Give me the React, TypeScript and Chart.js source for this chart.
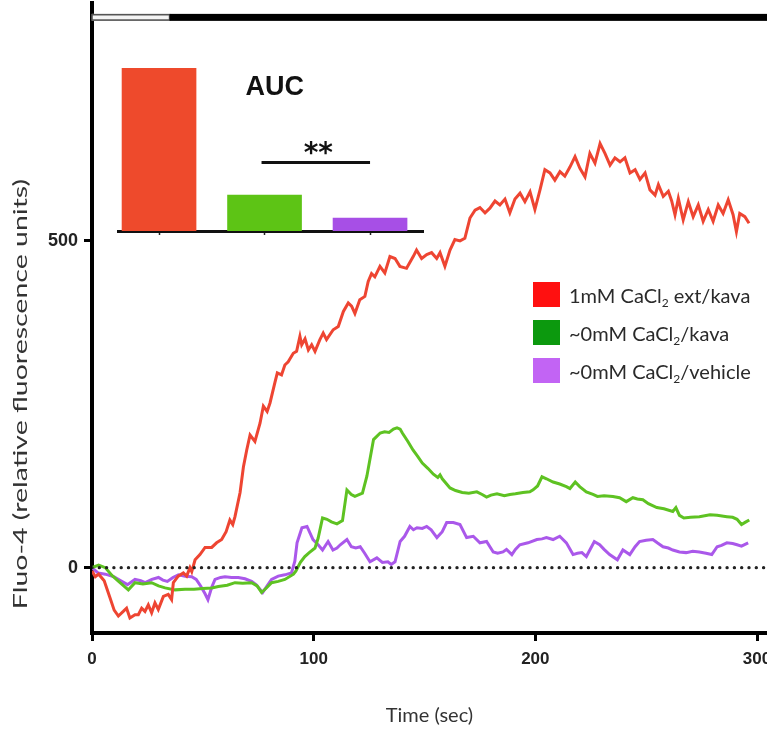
import React, { useEffect, useRef } from "react";
import { Chart, registerables } from "chart.js";
Chart.register(...registerables);

// ---------- data ----------
const redT = [0,1.5,3,5.5,8,10,11.9,14.1,15.6,17.1,19.4,20.9,22.4,23.9,25.4,26.9,28.4,29.9,32.2,34.4,35.9,36.7,38.9,41.2,42.7,44.2,45,46.5,48.7,51,54,56.2,58.5,60.5,62.2,63.5,64.5,66.8,68.3,69.8,71.3,73.5,75.8,77.3,79,80.3,82.5,83.6,85.5,87,88.5,90.8,92.3,93.8,94.6,96.1,97.6,99.1,100.6,102.8,104.3,105.8,108.8,111.1,113.4,115.6,117.1,118.6,120.8,123.1,124.6,126.1,127.6,129.9,132.1,134.4,136.7,138.9,141.9,144.9,146.4,148.7,151,153.2,155.5,157,159.2,161.5,163.7,166,168.2,170.5,172.8,175,177.3,179.5,181.8,184,186.3,188.5,190.8,193.1,195.3,197.6,199.8,202.1,204.3,206.6,208.8,211.1,213.3,215.6,217.9,220.1,222.4,224.6,226.9,229.2,231.4,233.7,235.9,238.2,240.4,242.7,245,247.2,249.5,251.7,254,255.5,257.7,260,261.5,263,264.5,266.7,269,271.2,273.5,275.7,278,280.2,282.5,284.7,287,289.2,290.7,292.2,294.5,296.4];
const redV = [-5,-14,-10,-20,-45,-65,-74,-67,-62,-77,-72,-72,-62,-67,-57,-69,-54,-64,-44,-41,-49,-23,-13,-8,-13,0,-6,12,20,31,31,38,43,55,73,66,78,115,154,180,203,193,221,247,239,252,283,298,295,310,315,328,331,354,341,350,333,341,331,349,359,349,364,369,392,405,400,389,410,415,438,450,445,461,451,476,473,461,458,476,486,473,479,482,473,482,461,486,502,500,504,535,547,551,543,550,561,555,564,543,564,573,560,575,548,578,609,604,593,606,599,613,629,611,598,634,619,649,634,616,627,621,627,604,609,594,604,578,570,586,568,576,561,540,565,532,560,537,555,530,548,530,555,542,563,540,514,542,537,527];

const greenT = [0,3,6,9,12,16.4,19.4,23,26.9,30,33,37.4,42,46,50,54,57,61,64.5,68,72,74.5,76.5,79,81,84,87,90.9,92,94,96,98,100.6,102,104,106,108,110.5,113,115,117,118.6,122,124,127,130,132,134,136,137.6,139,140,142.5,144.8,147,149,151.5,154,156,157,158,161.5,164,167,170,173.6,176,178,180,182.7,186,188.5,191,194.4,197.5,199,201,203,205,208,211,214,215.6,218,220,223,226,228,231,235,238,241,244,246,248.5,251,254.8,258,262,263.4,265,267,270,274,278.8,282,286.4,289,291,293,295,296.5];
const greenV = [0,4,0,-12,-21,-34,-23,-25,-23,-28,-31,-34,-33,-33,-32,-31,-29,-27,-23,-24,-23,-28,-38,-30,-23,-21,-18,-10,-5,8,17,23,30,45,76,74,70,67,72,119,112,109,114,140,196,206,208,207,212,214,212,206,193,180,170,160,152,143,138,142,136,122,118,115,114,116,112,108,111,113,110,112,113,115,116,119,125,139,136,131,128,124,121,131,124,116,112,109,110,109,107,101,107,105,104,98,92,90,86,92,80,76,77,78,81,80,78,77,74,66,70,73];

const purpleT = [0,2.7,6,10,13,16,19.4,22,24,27,30,32,34,36.5,39,42,45,47,49,51,52.3,54,55.5,58,60,63,66,69,72,74,77,79,81,84,87,90,91.5,92.5,94.7,97,99.7,102,104,106.5,108.7,110.5,112,115,117,119,121,123,125.4,128.5,131,133.5,135,136.7,139,141,143.4,145,146.6,149,151,153,155.6,158,160,163,166,169,172,175,178,181,183,185.4,187,189.4,191,193,196.7,200.7,203,205,208,211,214,217,219,221,223,226.6,229,231,233.5,237,239.5,242.6,245,247,250,253,255,257.6,260,262,265,268,271,274,277,279.6,282,284,286.4,289,291,293,296];
const purpleV = [0,-8,-10,-14,-20,-26,-18,-20,-23,-18,-15,-19,-21,-15,-11,-13,-14,-18,-28,-40,-49,-30,-18,-15,-14,-15,-15,-17,-21,-26,-38,-28,-18,-13,-11,-8,10,38,61,63,43,35,27,40,27,30,35,43,32,30,32,22,9,15,8,9,5,9,40,48,63,58,61,60,63,58,46,55,69,69,66,46,48,38,40,24,22,24,28,20,28,35,38,43,44,46,43,48,38,20,22,23,17,40,35,28,20,12,27,20,32,40,42,43,38,32,30,27,24,23,25,24,22,20,32,34,38,37,35,33,38];

const seriesLabels = [
  ["1mM CaCl", "2", " ext/kava"],
  ["~0mM CaCl", "2", "/kava"],
  ["~0mM CaCl", "2", "/vehicle"],
];
const lineColors = ["#ee4532", "#5ec222", "#aa58ea"];
const legendColors = ["#ff1010", "#0c990e", "#c264f4"];

const zeroT = [0, 304.5];
const zeroV = [0, 0];

const yTicks = [0, 500];
const xTicks = [0, 100, 200, 300];
const xTitle = "Time (sec)";
const yTitle = "Fluo-4 (relative fluorescence units)";

// stimulus bar segments
const stimFrom = [0, 35];
const stimTo = [35, 304.5];
const stimKind = ["open", "filled"];
const stimLevel = 842;

// inset AUC bars
const aucPos = [0, 1, 2];
const aucValues = [100, 22, 8];
const aucColors = ["#ee4a2c", "#5dc415", "#a74fe6"];
const aucTitle = "AUC";
const sigText = "**";
const sigLevel = 42;

const pts = (t: number[], v: number[]) => t.map((x, i) => ({ x, y: v[i] }));

const stimPlugin = {
  id: "stim",
  afterDraw(chart: any) {
    const { ctx, scales, chartArea } = chart;
    const xs = scales.x, ys = scales.y;
    const y = ys.getPixelForValue(stimLevel);
    const h = 7;
    ctx.save();
    stimFrom.forEach((f, i) => {
      const x0 = xs.getPixelForValue(f);
      const x1 = Math.min(xs.getPixelForValue(stimTo[i]), chartArea.right);
      if (stimKind[i] === "filled") {
        ctx.fillStyle = "#000";
        ctx.fillRect(x0, y - h / 2, x1 - x0, h);
      } else {
        ctx.fillStyle = "#f4f4f4";
        ctx.fillRect(x0, y - h / 2, x1 - x0, h);
        ctx.strokeStyle = "#555";
        ctx.lineWidth = 1.6;
        ctx.strokeRect(x0, y - h / 2 + 0.8, x1 - x0, h - 1.6);
      }
    });
    // stretched y-axis title, as in the original figure
    ctx.fillStyle = "#333";
    ctx.font = '19px Lato, sans-serif';
    ctx.textAlign = "center";
    ctx.textBaseline = "middle";
    ctx.translate(21, (chartArea.top + chartArea.bottom) / 2 + 76);
    ctx.rotate(-Math.PI / 2);
    ctx.scale(1.5, 1);
    ctx.fillText(yTitle, 0, 0);
    ctx.restore();
  },
};

const insetPlugin = {
  id: "insetText",
  afterDraw(chart: any) {
    const { ctx, scales } = chart;
    const xs = scales.x, ys = scales.y;
    ctx.save();
    ctx.fillStyle = "#111";
    ctx.font = 'bold 27px "Liberation Sans", Arial, sans-serif';
    ctx.textAlign = "left";
    ctx.textBaseline = "middle";
    ctx.fillText(aucTitle, xs.getPixelForValue(1) - 19, ys.getPixelForValue(88));
    const x1 = xs.getPixelForValue(1), x2 = xs.getPixelForValue(2);
    const yl = ys.getPixelForValue(sigLevel);
    ctx.strokeStyle = "#111";
    ctx.lineWidth = 3;
    ctx.beginPath();
    ctx.moveTo(x1 - 3, yl);
    ctx.lineTo(x2, yl);
    ctx.stroke();
    ctx.font = 'bold 28px "DejaVu Sans", sans-serif';
    ctx.textAlign = "center";
    ctx.textBaseline = "alphabetic";
    ctx.fillText(sigText, (x1 + x2) / 2 + 1, yl - 1);
    ctx.restore();
  },
};

function MainChart() {
  const ref = useRef<HTMLCanvasElement>(null);
  useEffect(() => {
    const mk = (label: string, t: number[], v: number[], color: string) => ({
      label,
      data: pts(t, v),
      borderColor: color,
      borderWidth: 3,
      pointRadius: 0,
      tension: 0,
      fill: false,
    });
    const chart = new Chart(ref.current!, {
      type: "line",
      data: {
        datasets: [
          {
            label: "zero",
            data: pts(zeroT, zeroV),
            borderColor: "#222",
            borderWidth: 3.4,
            borderDash: [0, 7.3],
            borderCapStyle: "round",
            pointRadius: 0,
          } as any,
          mk(seriesLabels[0].join(""), redT, redV, lineColors[0]),
          mk(seriesLabels[1].join(""), greenT, greenV, lineColors[1]),
          mk(seriesLabels[2].join(""), purpleT, purpleV, lineColors[2]),
        ],
      },
      options: {
        animation: false,
        responsive: false,
        devicePixelRatio: 1,
        layout: { padding: { top: 3, left: 0, right: 0, bottom: 0 } },
        plugins: { legend: { display: false }, tooltip: { enabled: false } },
        scales: {
          x: {
            type: "linear",
            min: 0,
            max: 304.5,
            afterBuildTicks: (s: any) => { s.ticks = xTicks.map((value) => ({ value })); },
            afterFit: (s: any) => { s.height = 100; s.paddingLeft = 0; s.paddingRight = 0; },
            border: { display: true, color: "#000", width: 4 },
            grid: { display: true, drawOnChartArea: false, drawTicks: true, tickLength: 8, tickWidth: 3, tickColor: "#000" },
            ticks: { color: "#222", padding: 8, maxRotation: 0, font: { family: '"Liberation Sans", Arial, sans-serif', size: 17, weight: "bold" } },
            title: { display: true, text: xTitle, color: "#333", padding: { top: 0, bottom: 5 }, font: { family: "Lato, sans-serif", size: 20 } },
          },
          y: {
            type: "linear",
            min: -100,
            max: 864,
            afterBuildTicks: (s: any) => { s.ticks = yTicks.map((value) => ({ value })); },
            afterFit: (s: any) => { s.width = 92; s.paddingTop = 0; s.paddingBottom = 0; },
            border: { display: true, color: "#000", width: 4 },
            grid: { display: true, drawOnChartArea: false, drawTicks: true, tickLength: 8, tickWidth: 3, tickColor: "#000" },
            ticks: { color: "#222", padding: 6, font: { family: '"Liberation Sans", Arial, sans-serif', size: 18, weight: "bold" } },
            title: { display: false },
          },
        },
      } as any,
      plugins: [stimPlugin],
    });
    return () => chart.destroy();
  }, []);
  return <canvas ref={ref} width={767} height={733} style={{ position: "absolute", left: 0, top: 0 }} />;
}

function InsetChart() {
  const ref = useRef<HTMLCanvasElement>(null);
  useEffect(() => {
    const chart = new Chart(ref.current!, {
      type: "bar",
      data: {
        datasets: [{
          data: aucPos.map((x, i) => ({ x, y: aucValues[i] })),
          backgroundColor: aucColors,
          borderWidth: 0,
          barThickness: 74,
        }],
      },
      options: {
        animation: false,
        responsive: false,
        devicePixelRatio: 1,
        layout: { padding: { top: 28, left: 18, right: 7, bottom: 0 } },
        plugins: { legend: { display: false }, tooltip: { enabled: false } },
        scales: {
          x: {
            type: "linear",
            offset: false,
            grace: 0,
            min: -0.389,
            max: 2.502,
            afterBuildTicks: (s: any) => { s.ticks = aucPos.map((value) => ({ value })); },
            ticks: { display: false },
            afterFit: (s: any) => { s.height = 9; s.paddingLeft = 0; s.paddingRight = 0; },
            border: { display: true, color: "#111", width: 3 },
            grid: { display: true, offset: false, drawOnChartArea: false, drawTicks: true, tickLength: 4, tickWidth: 1.5, tickColor: "#222" },
          },
          y: { display: false, min: 0, max: 100 },
        },
      } as any,
      plugins: [insetPlugin],
    });
    return () => chart.destroy();
  }, []);
  return <canvas ref={ref} width={330} height={200} style={{ position: "absolute", left: 100, top: 40 }} />;
}

function Legend() {
  return (
    <div style={{ position: "absolute", left: 533, top: 282, fontFamily: "Lato, sans-serif", fontSize: 20, color: "#2a2a2a" }}>
      {seriesLabels.map((l, i) => (
        <div key={i} style={{ display: "flex", alignItems: "center", height: 25, marginBottom: 13 }}>
          <div style={{ width: 27, height: 25, background: legendColors[i], marginRight: 9 }} />
          <span style={{ whiteSpace: "nowrap" }}>
            {l[0]}
            <sub style={{ fontSize: 12, verticalAlign: "-4px", lineHeight: 0 }}>{l[1]}</sub>
            {l[2]}
          </span>
        </div>
      ))}
    </div>
  );
}

export default function App() {
  return (
    <div style={{ position: "absolute", left: 0, top: 0, width: 767, height: 733, background: "#fff", overflow: "hidden" }}>
      <MainChart />
      <InsetChart />
      <Legend />
    </div>
  );
}
